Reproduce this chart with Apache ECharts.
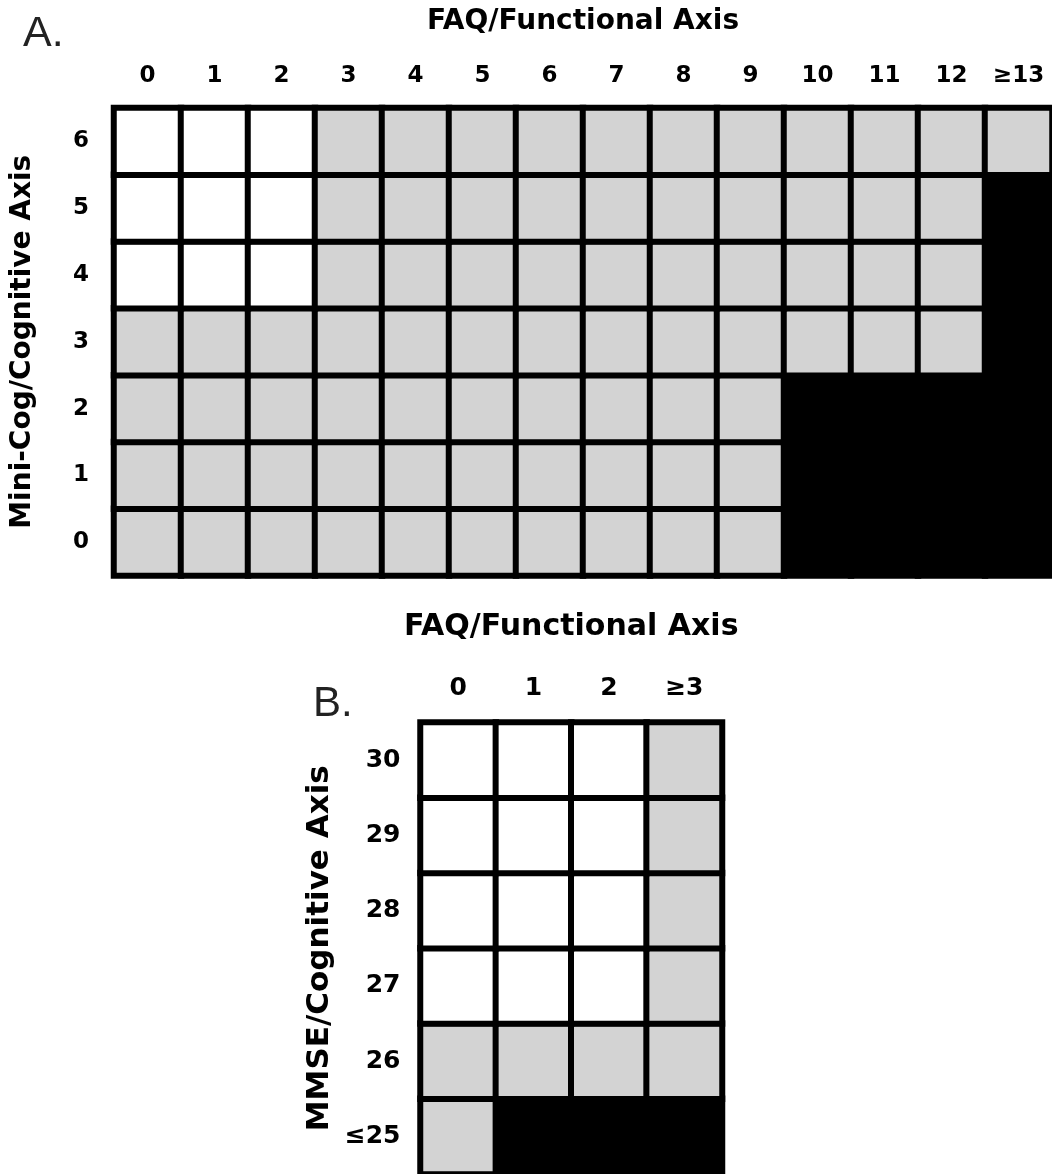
<!DOCTYPE html>
<html>
<head>
<meta charset="utf-8">
<script src="https://cdn.jsdelivr.net/npm/echarts@6/dist/echarts.min.js"></script>
<style>
html,body{margin:0;padding:0;background:#fff;}
#chart{width:1052px;height:1174px;}
</style>
</head>
<body>
<div id="chart"></div>
<script>
// Panel A: FAQ (functional) vs Mini-Cog (cognitive)
const faqA = ['0','1','2','3','4','5','6','7','8','9','10','11','12','≥13'];
const cogA = ['0','1','2','3','4','5','6'];
// zone codes: 0 = white, 1 = grey, 2 = black ; rows listed from cog 0 up to cog 6
const zonesA = [
  [1,1,1,1,1,1,1,1,1,1,2,2,2,2], // 0
  [1,1,1,1,1,1,1,1,1,1,2,2,2,2], // 1
  [1,1,1,1,1,1,1,1,1,1,2,2,2,2], // 2
  [1,1,1,1,1,1,1,1,1,1,1,1,1,2], // 3
  [0,0,0,1,1,1,1,1,1,1,1,1,1,2], // 4
  [0,0,0,1,1,1,1,1,1,1,1,1,1,2], // 5
  [0,0,0,1,1,1,1,1,1,1,1,1,1,1]  // 6
];
// Panel B: FAQ (functional) vs MMSE (cognitive)
const faqB = ['0','1','2','≥3'];
const mmseB = ['≤25','26','27','28','29','30'];
const zonesB = [
  [1,2,2,2], // <=25
  [1,1,1,1], // 26
  [0,0,0,1], // 27
  [0,0,0,1], // 28
  [0,0,0,1], // 29
  [0,0,0,1]  // 30
];

function toCells(zones){
  const out = [];
  zones.forEach((row, yi) => row.forEach((v, xi) => out.push([xi, yi, v])));
  return out;
}

const FONT = 'DejaVu Sans';
const chart = echarts.init(document.getElementById('chart'), null, {renderer:'canvas'});

function xAx(idx, cats, name, fs, nfs, margin, gap){
  return {
    type:'category', gridIndex:idx, data:cats, position:'top',
    axisLine:{show:false}, axisTick:{show:false}, splitLine:{show:false},
    axisLabel:{color:'#000', fontFamily:FONT, fontWeight:'bold', fontSize:fs, margin:margin, interval:0},
    name:name, nameLocation:'middle', nameGap:gap,
    nameTextStyle:{color:'#000', fontFamily:FONT, fontWeight:'bold', fontSize:nfs}
  };
}
function yAx(idx, cats, name, fs, nfs, margin, gap){
  return {
    type:'category', gridIndex:idx, data:cats,
    axisLine:{show:false}, axisTick:{show:false}, splitLine:{show:false},
    axisLabel:{color:'#000', fontFamily:FONT, fontWeight:'bold', fontSize:fs, margin:margin, interval:0},
    name:name, nameLocation:'middle', nameGap:gap, nameRotate:90,
    nameTextStyle:{color:'#000', fontFamily:FONT, fontWeight:'bold', fontSize:nfs}
  };
}

const cellStyle = {borderColor:'#000', borderWidth:6};

chart.setOption({
  animation:false,
  backgroundColor:'#fff',
  grid:[
    {left:114, top:108, width:941, height:467.5, containLabel:false},
    {left:420.5, top:722.5, width:301.5, height:453, containLabel:false}
  ],
  xAxis:[
    xAx(0, faqA, 'FAQ/Functional Axis', 23, 28, 20.5, 72),
    xAx(1, faqB, 'FAQ/Functional Axis', 25, 30, 21.5, 80.5)
  ],
  yAxis:[
    yAx(0, cogA, 'Mini-Cog/Cognitive Axis', 23, 28, 25, 77),
    yAx(1, mmseB, 'MMSE/Cognitive Axis', 25, 31, 20, 85)
  ],
  visualMap:{
    type:'piecewise', show:false, seriesIndex:[0,1], dimension:2,
    pieces:[
      {value:0, color:'#ffffff'},
      {value:1, color:'#d3d3d3'},
      {value:2, color:'#000000'}
    ]
  },
  series:[
    {type:'heatmap', xAxisIndex:0, yAxisIndex:0, data:toCells(zonesA), itemStyle:cellStyle, emphasis:{disabled:true}},
    {type:'heatmap', xAxisIndex:1, yAxisIndex:1, data:toCells(zonesB), itemStyle:cellStyle, emphasis:{disabled:true}}
  ],
  graphic:[
    {type:'text', left:23, top:13, style:{text:'A.', font:'43px "Liberation Sans"', fill:'#222'}},
    {type:'text', left:313, top:683, style:{text:'B.', font:'42px "Liberation Sans"', fill:'#222'}}
  ]
});
</script>
</body>
</html>
